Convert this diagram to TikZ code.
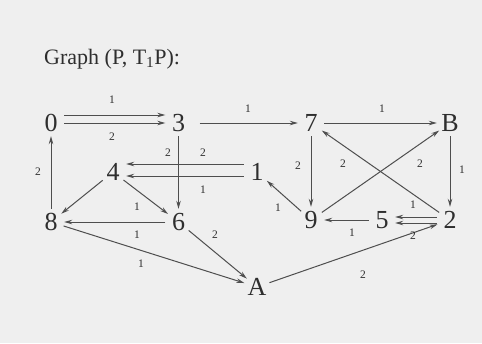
\documentclass[tikz,border=0pt]{standalone}
\usepackage{fontspec}
\setmainfont{Liberation Serif}
\usetikzlibrary{arrows.meta,calc}
\definecolor{bg}{HTML}{EFEFEF}
\definecolor{ink}{HTML}{2E2E2E}
\definecolor{edge}{HTML}{4E4E4E}
\begin{document}
\begin{tikzpicture}[x=1pt,y=-1pt,
  vert/.style={circle,inner sep=0pt,minimum size=26pt,text=ink,font=\fontsize{26}{28}\selectfont},
  lbl/.style={inner sep=0pt,text=ink,font=\fontsize{11.5}{12}\selectfont},
  arr/.style={draw=edge,line width=1pt,-{Stealth[length=8pt,width=4.5pt]}},
  ttl/.style={inner sep=0pt,text=ink,font=\fontsize{22}{24}\selectfont,anchor=base west}]
\fill[bg] (0,0) rectangle (482,343);
\useasboundingbox (0,0) rectangle (482,343);
\node[ttl] (title) at (44,64) {Graph (P, T\textsubscript{1}P):};
% vertices
\node[vert] (n0) at (51,123) {0};
\node[vert] (n3) at (178.5,123) {3};
\node[vert] (n7) at (311,123) {7};
\node[vert] (nB) at (450,123) {B};
\node[vert] (n4) at (113,172) {4};
\node[vert] (n1) at (257,172) {1};
\node[vert] (n8) at (51,222) {8};
\node[vert] (n6) at (178.5,222) {6};
\node[vert] (n9) at (311,220) {9};
\node[vert] (n5) at (382,220) {5};
\node[vert] (n2) at (450,220) {2};
\node[vert] (nA) at (257,287) {A};
% edges
\draw[arr] ([yshift=8pt]n0.east) -- ([yshift=8pt]n3.west);
\draw[arr] ([yshift=0pt]n0.east) -- ([yshift=0pt]n3.west);
\draw[arr,shorten <=8pt] (n3) -- (n7);
\draw[arr] (n7) -- (nB);
\draw[arr] (n3) -- (n6);
\draw[arr] ([yshift=8pt]n1.west) -- ([yshift=8pt]n4.east);
\draw[arr] ([yshift=-4pt]n1.west) -- ([yshift=-4pt]n4.east);
\draw[arr] (n8) -- (n0);
\draw[arr] (n4) -- (n8);
\draw[arr] (n4) -- (n6);
\draw[arr] (n6) -- (n8);
\draw[arr] (n8) -- (nA);
\draw[arr] (n6) -- (nA);
\draw[arr] (nA) -- (n2);
\draw[arr] (n9) -- (n1);
\draw[arr] (n5) -- (n9);
\draw[arr] ([yshift=3pt]n2.west) -- ([yshift=3pt]n5.east);
\draw[arr] ([yshift=-3pt]n2.west) -- ([yshift=-3pt]n5.east);
\draw[arr] (n7) -- (n9);
\draw[arr] (n9) -- (nB);
\draw[arr] (n2) -- (n7);
\draw[arr] (nB) -- (n2);
% edge labels
\node[lbl] (l03a) at (112,100) {1};
\node[lbl] (l03b) at (112,137) {2};
\node[lbl] (l37) at (248,109) {1};
\node[lbl] (l7B) at (382,109) {1};
\node[lbl] (l36) at (168,153) {2};
\node[lbl] (l14a) at (203,153) {2};
\node[lbl] (l14b) at (203,190) {1};
\node[lbl] (l80) at (38,172) {2};
\node[lbl] (l46) at (137,207) {1};
\node[lbl] (l68) at (137,235) {1};
\node[lbl] (l8A) at (141,264) {1};
\node[lbl] (l6A) at (215,235) {2};
\node[lbl] (lA2) at (363,275) {2};
\node[lbl] (l91) at (278,208) {1};
\node[lbl] (l59) at (352,233) {1};
\node[lbl] (l25a) at (413,205) {1};
\node[lbl] (l25b) at (413,236) {2};
\node[lbl] (l79) at (298,166) {2};
\node[lbl] (l9B) at (420,164) {2};
\node[lbl] (l27) at (343,164) {2};
\node[lbl] (lB2) at (462,170) {1};
\end{tikzpicture}
\end{document}
